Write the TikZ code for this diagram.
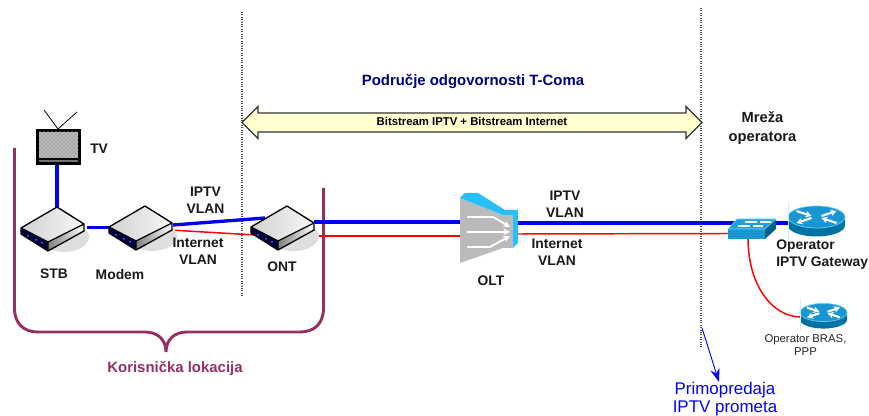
\documentclass[tikz,border=0pt]{standalone}
\usepackage{fontspec}
\setmainfont{Liberation Sans}
\usetikzlibrary{arrows.meta,patterns}
\definecolor{brace}{RGB}{150,48,100}
\definecolor{navy}{RGB}{0,0,128}
\definecolor{cyanT}{RGB}{40,190,250}
\definecolor{rtTop}{RGB}{25,150,210}
\definecolor{rtSide}{RGB}{0,115,165}
\tikzset{
 lab/.style={font=\bfseries\fontsize{10.4}{12.9}\selectfont,align=center,inner sep=0pt,text=black!90},
 small/.style={font=\fontsize{8.5}{9.8}\selectfont,align=center,inner sep=0pt,text=black!85},
 blueline/.style={draw={rgb,255:red,0;green,0;blue,240},line width=2.5pt},
 redline/.style={draw=red,line width=1.1pt},
 pics/device/.style={code={
  \fill[black!13] (7,30) ellipse (25 and 15);
  \shade[left color=black!18,right color=black!3] (0,0)--(27,17)--(-9,35)--(-36,21)--cycle;
  \fill[black!75!blue] (-36,21)--(-9,35)--(-9,44)--(-36,27)--cycle;
  \shade[left color=black!50,right color=white] (-9,35)--(27,17)--(27,24)--(-9,44)--cycle;
  \fill[blue!60!white] (-29,29) circle (1) (-21,33) circle (1) (-15,36) circle (1);
  \draw[black,line width=1pt,line join=round] (0,0)--(27,17)--(27,24)--(-9,44)--(-36,27)--(-36,21)--(-9,35)--(27,17) (-9,35)--(-9,44) (-36,21)--(0,0);
 }},
 rarrow/.style={white,line width=1.6pt,-{Stealth[length=4.5pt,width=5pt]}},
 pics/router/.style={code={
  \fill[rtSide] (-28.5,0)--(-28.5,8.5) arc[start angle=180,end angle=0,x radius=28.5,y radius=11]--(28.5,0)--cycle;
  \fill[rtTop,draw=cyan!60!white,line width=.5pt] (0,0) ellipse (28.5 and 11);
  \draw[rarrow] (-20,-6)--(-5,-1);
  \draw[rarrow] (20,6)--(5,1);
  \draw[rarrow] (5,-1)--(20,-6);
  \draw[rarrow] (-5,1)--(-20,6);
  \draw[cyan!20,line width=.7pt] (-28.5,-15)--(-28.5,23);
 }}
}
\begin{document}
\begin{tikzpicture}[x=.75pt,y=-.75pt]
\useasboundingbox (0,0) rectangle (869,416);
% anchors
\coordinate (tvB) at (57,165);
\coordinate (stbT) at (57,207);
\coordinate (stbR) at (87,227.5);
\coordinate (modL) at (109,227.5);
\coordinate (modR) at (173,225);
\coordinate (modRr) at (170,230);
\coordinate (ontTL) at (265,218);
\coordinate (ontL) at (255,235);
\coordinate (ontR) at (314,222);
\coordinate (ontRb) at (303,236);
\coordinate (oltLb) at (461,222);
\coordinate (oltLr) at (461,236);
\coordinate (oltRb) at (518,223);
\coordinate (oltRr) at (518,234);
\coordinate (swB) at (740,223);
\coordinate (swR) at (729,233.5);
\coordinate (swD) at (748,238);
\coordinate (gwL) at (788,223);
\coordinate (brasL) at (801,317);
\coordinate (vA) at (242,12);
\coordinate (vB) at (242,296);
\coordinate (wA) at (701,8);
\coordinate (wB) at (701,347);
\coordinate (pA) at (702,328);
\coordinate (pB) at (719,382);
% brace
\draw[brace,line width=2.2pt] (14.5,148)--(14.5,308) .. controls (14.5,324) and (24,332) .. (38,332)--(145,332) .. controls (158,332) and (166,340) .. (166,352) .. controls (166,340) and (174,332) .. (187,332)--(300,332) .. controls (314,332) and (323.5,324) .. (323.5,308)--(323.5,188);
% dotted
\draw[black!70,densely dotted,line width=.8pt] (vA)--(vB);
\draw[black!70,densely dotted,line width=.8pt] (wA)--(wB);
% links
\draw[blueline] (tvB)--(stbT);
\draw[blueline] (stbR)--(modL);
\draw[blueline] (modR)--(ontTL);
\draw[redline] (modRr)--(ontL);
\draw[blueline] (ontR)--(oltLb);
\draw[redline] (ontRb)--(oltLr);
\draw[blueline] (oltRb)--(swB);
\draw[redline] (oltRr)--(swR);
\draw[blueline] (swB)--(gwL);
\draw[red,line width=1.1pt] (swD) .. controls (748,285) and (772,317) .. (brasL);
\draw[-{Stealth[length=10pt,width=7pt]},blue,line width=.7pt] (pA)--(pB);
% devices
\pic at (57,207) {device};
\pic at (145,206) {device};
\pic at (287,206) {device};
% TV
\draw[black,line width=.6pt] (58,129)--(44,110) (58,129)--(77,112);
\fill[black] (36,129) rectangle (81,165);
\fill[black!35] (39,132) rectangle (78,158);
\fill[pattern=crosshatch dots,pattern color=white] (39,132) rectangle (78,158);
\fill[black!55] (39,160) rectangle (78,162);
% OLT
\fill[black!27] (460,198)--(503,215)--(513,215)--(513,248)--(503,248)--(460,263)--cycle;
\fill[cyanT] (460,198)--(465,193)--(478,193)--(505,210)--(518,210)--(513,215)--(503,215)--cycle;
\fill[cyanT] (513,215)--(518,210)--(518,243)--(513,248)--cycle;
\draw[white,line width=1.4pt,-{Stealth[length=5pt,width=5pt]}] (467,217)--(493,217)--(510,227);
\draw[white,line width=1.4pt,-{Stealth[length=5pt,width=5pt]}] (467,232)--(510,232);
\draw[white,line width=1.4pt,-{Stealth[length=5pt,width=5pt]}] (467,247)--(490,247)--(510,236);
% switch
\fill[rtSide!85!black] (765,229)--(776,219)--(776,229)--(765,239)--cycle;
\fill[rtTop] (728,229)--(765,229)--(765,239)--(728,239)--cycle;
\fill[cyan!60!rtTop,draw=cyan!50!white,line width=.4pt] (728,229)--(737,219)--(776,219)--(765,229)--cycle;
\draw[white,line width=1pt] (738,226)--(750,226) (745,222)--(757,222) (753,226)--(763,226) (760,222)--(771,222);
% routers
\pic at (816.5,217) {router};
\pic[scale=.825] at (823.5,312.5) {router};
% text
\node[lab,text=navy,font=\bfseries\fontsize{11.2}{13}\selectfont] (title) at (473,82) {Područje odgovornosti T-Coma};
\fill[fill={rgb,255:red,255;green,255;blue,208},draw=black!80,line width=.9pt] (242,122.5)--(258,106.5)--(258,113)--(686,113)--(686,106.5)--(702,122.5)--(686,138.5)--(686,132)--(258,132)--(258,138.5)--cycle;
\node[font=\bfseries\fontsize{8.5}{10}\selectfont,inner sep=0pt] (bs) at (472,121.5) {Bitstream IPTV + Bitstream Internet};
\node[lab,font=\bfseries\fontsize{11}{14.25}\selectfont] (mr) at (762.5,128.5) {Mreža\\operatora};
\node[lab,anchor=west] (tv) at (90,149) {TV};
\node[lab] (stb) at (54,274) {STB};
\node[lab] (mod) at (120,275) {Modem};
\node[lab] (ont) at (282,267) {ONT};
\node[lab] (iv1) at (205.5,200) {IPTV\\VLAN};
\node[lab] (iv2) at (198,251.5) {Internet\\VLAN};
\node[lab] (olt) at (491,281) {OLT};
\node[lab] (iv3) at (565,204.5) {IPTV\\VLAN};
\node[lab] (iv4) at (557,252.5) {Internet\\VLAN};
\node[lab,align=left,anchor=west] (gw) at (776,255) {Operator\\IPTV Gateway};
\node[small] (bras) at (805.5,345.5) {Operator BRAS,\\PPP};
\node[lab,text=brace,font=\bfseries\fontsize{11.2}{13}\selectfont] (kl) at (175,368) {Korisnička lokacija};
\node[font=\fontsize{12.7}{13.5}\selectfont,text=blue,align=center,inner sep=0pt,anchor=north] (pr) at (725,382) {Primopredaja\\IPTV prometa};
\end{tikzpicture}
\end{document}
